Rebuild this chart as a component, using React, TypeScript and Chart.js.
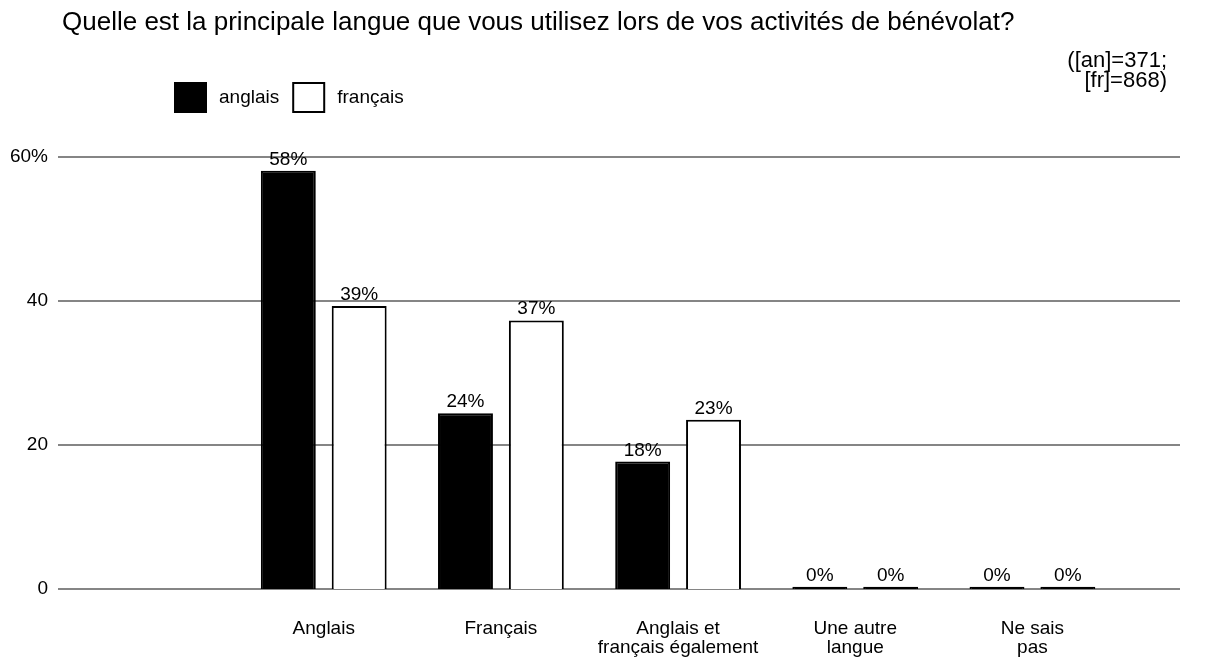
import React, { useEffect, useRef } from 'react';
import { Chart, registerables } from 'chart.js';

Chart.register(...registerables);

const TITLE = 'Quelle est la principale langue que vous utilisez lors de vos activités de bénévolat?';
const NOTE_LINES = ['([an]=371;', '[fr]=868)'];
const categories: string[][] = [
  ['Anglais'],
  ['Français'],
  ['Anglais et', 'français également'],
  ['Une autre', 'langue'],
  ['Ne sais', 'pas'],
];
const seriesNames = ['anglais', 'français'];
const anglaisValues = [58.1, 24.4, 17.7, 0.3, 0.3];
const francaisValues = [39.3, 37.3, 23.5, 0.3, 0.3];
const anglaisLabels = ['58%', '24%', '18%', '0%', '0%'];
const francaisLabels = ['39%', '37%', '23%', '0%', '0%'];
const yTickValues = [0, 20, 40, 60];
const yTickLabels = ['0', '20', '40', '60%'];

const FONT = '"Liberation Sans", Arial, Helvetica, sans-serif';

export default function App() {
  const ref = useRef<HTMLCanvasElement | null>(null);

  useEffect(() => {
    if (!ref.current) return;
    const valueLabels = [anglaisLabels, francaisLabels];

    const decor = {
      id: 'decor',
      beforeDatasetsDraw(chart: any) {
        const { ctx, chartArea, scales } = chart;
        ctx.save();
        ctx.strokeStyle = '#858585';
        ctx.lineWidth = 2;
        yTickValues.forEach((v) => {
          const y = scales.y.getPixelForValue(v);
          ctx.beginPath();
          ctx.moveTo(chartArea.left, y);
          ctx.lineTo(chartArea.right + 59, y);
          ctx.stroke();
        });
        ctx.restore();
      },
      afterDatasetsDraw(chart: any) {
        const { ctx } = chart;
        ctx.save();
        ctx.fillStyle = '#000';
        ctx.font = `19px ${FONT}`;
        ctx.textAlign = 'center';
        ctx.textBaseline = 'alphabetic';
        chart.data.datasets.forEach((ds: any, di: number) => {
          const meta = chart.getDatasetMeta(di);
          meta.data.forEach((bar: any, i: number) => {
            if (i === 0) return;
            const txt = valueLabels[di][i - 1];
            ctx.fillText(txt, bar.x, bar.y - 6);
          });
        });
        ctx.restore();
      },
      afterDraw(chart: any) {
        const { ctx } = chart;
        ctx.save();
        ctx.fillStyle = '#000';
        // title
        ctx.font = `26px ${FONT}`;
        ctx.textAlign = 'left';
        ctx.textBaseline = 'alphabetic';
        ctx.fillText(TITLE, 62, 30);
        // note
        ctx.font = `22px ${FONT}`;
        ctx.textAlign = 'right';
        NOTE_LINES.forEach((l, i) => ctx.fillText(l, 1167, 67 + i * 20));
        // legend
        ctx.font = `19px ${FONT}`;
        ctx.textAlign = 'left';
        ctx.textBaseline = 'middle';
        let x = 174;
        const boxTop = 82;
        const boxW = 33;
        const boxH = 31;
        chart.data.datasets.forEach((ds: any, i: number) => {
          ctx.fillStyle = i === 0 ? '#000000' : '#ffffff';
          ctx.fillRect(x, boxTop, boxW, boxH);
          ctx.strokeStyle = '#000';
          ctx.lineWidth = 2;
          ctx.strokeRect(x + 1, boxTop + 1, boxW - 2, boxH - 2);
          ctx.fillStyle = '#000';
          const tx = x + boxW + 12;
          ctx.fillText(seriesNames[i], tx, boxTop + boxH / 2);
          x = tx + ctx.measureText(seriesNames[i]).width + 13;
        });
        ctx.restore();
      },
    };

    const whiteOrLine = (c: any) => {
      const v = c.raw;
      return typeof v === 'number' && v < 1 ? '#000000' : '#ffffff';
    };

    const chart = new Chart(ref.current, {
      type: 'bar',
      data: {
        labels: [[''] as any, ...categories],
        datasets: [
          {
            label: seriesNames[0],
            data: [null, ...anglaisValues],
            backgroundColor: '#000000',
            borderColor: '#000000',
            borderWidth: 2,
            categoryPercentage: 0.8,
            barPercentage: 0.775,
          },
          {
            label: seriesNames[1],
            data: [null, ...francaisValues],
            backgroundColor: whiteOrLine,
            borderColor: '#000000',
            borderWidth: 2,
            categoryPercentage: 0.8,
            barPercentage: 0.775,
          },
        ],
      },
      options: {
        animation: false,
        responsive: true,
        maintainAspectRatio: false,
        layout: { padding: { top: 157, right: 88, bottom: 0, left: 0 } },
        plugins: {
          legend: { display: false },
          title: { display: false },
          tooltip: { enabled: false },
        },
        scales: {
          x: {
            grid: { display: false, drawTicks: false },
            border: { display: false },
            ticks: {
              color: '#000',
              font: { family: FONT, size: 19, lineHeight: 1.0 },
              padding: 30,
              maxRotation: 0,
              autoSkip: false,
            },
            afterFit: (s: any) => {
              s.height = 69;
            },
          },
          y: {
            min: 0,
            max: 60,
            grid: { display: false, drawTicks: false },
            border: { display: false },
            ticks: {
              stepSize: 20,
              color: '#000',
              font: { family: FONT, size: 19 },
              padding: 10,
              callback: (v: any) => {
                const idx = yTickValues.indexOf(Number(v));
                return idx >= 0 ? yTickLabels[idx] : '';
              },
            },
            afterFit: (s: any) => {
              s.width = 58;
            },
          },
        },
      },
      plugins: [decor],
    } as any);

    return () => chart.destroy();
  }, []);

  return (
    <div style={{ position: 'fixed', left: 0, top: 0, width: 1209, height: 658, background: '#fff' }}>
      <canvas ref={ref} />
    </div>
  );
}
